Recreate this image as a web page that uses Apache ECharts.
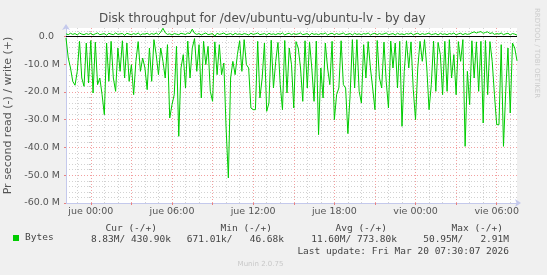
<!DOCTYPE html>
<html>
<head>
<meta charset="utf-8">
<script src="https://cdn.jsdelivr.net/npm/echarts@6/dist/echarts.min.js"></script>
<style>
html,body{margin:0;padding:0;background:#f0f0f0;}
#chart{width:547px;height:275px;}
</style>
</head>
<body>
<div id="chart"></div>
<script>
// ---- data (values in M bytes per second; read shown negative) ----
const startHour = -11 / 6;      // Wed 22:10, hours relative to Thu 00:00
const stepHour = 1 / 6;         // 10-minute samples
const readMB = [
  -0.6, -7.8, -11.4, -16.2, -17.6, -12.6, -1.8, -15, -18, -2.4,
  -16.8, -1.5, -20.4, -2.1, -17.4, -15, -21, -28.2, -2.4, -16.2,
  -1.8, -15, -19.8, -4.2, -12.6, -1.6, -15, -2.4, -16.2, -10.2,
  -21, -9, -1.9, -12.6, -7.8, -11.4, -19.2, -4.2, -16.2, -1.2,
  -6.6, -13.8, -4.2, -9, -15, -3, -29.4, -24.6, -21, -3.6,
  -36, -11.4, -6.6, -18.6, -1.7, -15, -4.2, -0.8, -12.6, -3,
  -22.2, -1.8, -10.2, -3.6, -19.8, -23.4, -2.0, -13.8, -3, -13.8,
  -9.6, -33, -50.95, -15, -9, -13.8, -6.6, -1.6, -12.6, -1.2,
  -10.2, -11.4, -25.8, -26.4, -26.4, -1.8, -22.2, -15, -2.4, -27,
  -24, -1.4, -18.6, -9, -2.2, -17.4, -26.4, -1.5, -20.4, -4.2,
  -10.2, -25.8, -1.9, -4.2, -11.4, -23.4, -1.6, -18.6, -2.0, -11.4,
  -23.4, -1.7, -35.4, -11.4, -22.2, -2.4, -11.4, -17.4, -1.8, -30,
  -21, -18.6, -1.6, -17.4, -18.6, -35, -21, -1.2, -18.6, -1.2,
  -19.8, -24, -3, -15, -1.9, -11.4, -18.6, -26.4, -1.5, -15,
  -18.6, -2.1, -16.2, -25.8, -1.7, -11.4, -2.4, -18.6, -1.8, -32.4,
  -12.6, -1.6, -11.4, -2.0, -19.2, -30, -11.4, -1.8, -9, -1.2,
  -11.4, -26.4, -17.4, -1.7, -19.8, -2.2, -6.6, -21, -1.8, -19.8,
  -1.2, -15, -6.6, -21, -1.9, -9, -1.2, -39.6, -12.6, -24.6,
  -1.6, -15, -2.0, -19.8, -1.8, -31.2, -1.5, -21, -1.9, -9,
  -21, -31.8, -31.8, -3, -39.6, -19.8, -4.2, -27.6, -2.4, -4.2,
  -8.83
];
const writeMB = [
  0.9, 0.6, 1.1, 0.7, 1.0, 0.5, 1.2, 0.8, 0.6, 1.0,
  0.7, 1.1, 0.5, 0.9, 1.2, 0.6, 0.8, 1.0, 0.4, 1.1,
  0.8, 0.6, 1.2, 0.7, 0.9, 1.0, 0.4, 1.1, 0.8, 0.6,
  1.0, 0.7, 1.2, 0.5, 0.9, 0.8, 1.1, 0.6, 1.0, 0.7,
  1.2, 0.6, 1.5, 2.91, 1.3, 0.7, 0.9, 0.5, 1.0, 0.8,
  0.6, 1.1, 0.9, 0.7, 1.2, 1.0, 2.6, 1.1, 0.7, 1.0,
  0.5, 0.9, 1.2, 0.6, 0.8, 1.0, 0.05, 1.1, 0.7, 0.9,
  1.2, 0.6, 0.8, 1.0, 0.5, 1.1, 0.7, 0.9, 0.6, 1.0,
  0.8, 0.5, 1.1, 0.7, 0.9, 1.2, 0.6, 0.8, 1.0, 0.5,
  1.1, 0.7, 0.9, 0.6, 1.0, 0.8, 1.2, 0.5, 0.9, 1.1,
  0.6, 1.0, 0.7, 0.9, 1.2, 0.6, 0.8, 1.0, 0.4, 1.1,
  0.7, 0.9, 0.6, 1.0, 0.8, 1.2, 0.5, 0.9, 1.1, 0.6,
  1.0, 0.7, 0.9, 1.2, 0.6, 0.8, 1.0, 0.5, 1.1, 0.7,
  0.9, 0.6, 1.0, 0.8, 1.2, 0.5, 0.9, 1.1, 0.6, 1.0,
  0.7, 0.9, 1.2, 0.6, 0.8, 1.0, 0.5, 1.1, 0.7, 0.9,
  0.6, 1.0, 0.8, 1.2, 0.5, 0.9, 1.1, 0.6, 1.0, 0.7,
  0.9, 1.2, 0.6, 0.8, 1.0, 0.5, 1.1, 0.7, 0.9, 0.6,
  1.0, 0.8, 1.2, 0.5, 0.9, 1.1, 0.6, 1.0, 0.7, 0.9,
  1.3, 1.6, 1.2, 1.5, 1.7, 1.1, 1.4, 1.6, 1.0, 1.3,
  0.7, 1.0, 0.8, 1.2, 0.6, 0.9, 1.1, 0.5, 1.0, 0.8,
  0.43
];
const xTickHours = [0, 6, 12, 18, 24, 30];
const xTickLabels = ['jue 00:00', 'jue 06:00', 'jue 12:00', 'jue 18:00', 'vie 00:00', 'vie 06:00'];
const xMajorHours = [0, 3, 6, 9, 12, 15, 18, 21, 24, 27, 30];
const xMinorHours = [-1, 1, 2, 4, 5, 7, 8, 10, 11, 13, 14, 16, 17, 19, 20, 22, 23, 25, 26, 28, 29, 31];
const yMajorTicks = [-60, -50, -40, -30, -20, -10, 0];
const yMinorTicks = [-58, -56, -54, -52, -48, -46, -44, -42, -38, -36, -34, -32, -28, -26, -24, -22,
                     -18, -16, -14, -12, -8, -6, -4, -2, 2];
const legendHeaders = ['Cur (-/+)', 'Min (-/+)', 'Avg (-/+)', 'Max (-/+)'];
const legendValues = ['8.83M/ 430.90k', '671.01k/   46.68k', '11.60M/ 773.80k', '50.95M/   2.91M'];
const lastUpdate = 'Last update: Fri Mar 20 07:30:07 2026';

// ---- chart ----
const xMin = startHour;
const xMax = startHour + (readMB.length - 1) * stepHour;
const readData = readMB.map((v, i) => [startHour + i * stepHour, v]);
const writeData = writeMB.map((v, i) => [startHour + i * stepHour, v]);

const SANS = '"DejaVu Sans", sans-serif';
const MONO = '"DejaVu Sans Mono", monospace';
const GREEN = '#00cc00';
const AXIS = '#c4c9ec';
const MGRID = '#f2a0a0';
const GRID = '#d2d2d2';

const chart = echarts.init(document.getElementById('chart'), null, {renderer: 'canvas'});

const headerRight = [157, 272, 387, 503];
const valueRight = [171, 284, 397, 509];
const graphics = [];
legendHeaders.forEach((t, k) => graphics.push({
  type: 'text', x: headerRight[k], y: 228.5,
  style: {text: t, textAlign: 'right', textVerticalAlign: 'middle', fill: '#444', font: '9.5px ' + MONO}
}));
legendValues.forEach((t, k) => graphics.push({
  type: 'text', x: valueRight[k], y: 240,
  style: {text: t, textAlign: 'right', textVerticalAlign: 'middle', fill: '#444', font: '9.5px ' + MONO}
}));
graphics.push({
  type: 'text', x: 509, y: 251.5,
  style: {text: lastUpdate, textAlign: 'right', textVerticalAlign: 'middle', fill: '#444', font: '9.5px ' + MONO}
});
graphics.push({
  type: 'text', x: 260.5, y: 264,
  style: {text: 'Munin 2.0.75', textAlign: 'center', textVerticalAlign: 'middle', fill: '#c8c8c8', font: '7px ' + SANS}
});
graphics.push({
  type: 'text', x: 537, y: 53, rotation: -Math.PI / 2,
  style: {text: 'RRDTOOL / TOBI OETIKER', textAlign: 'center', textVerticalAlign: 'middle', fill: '#cccccc', font: '7px ' + SANS}
});

const option = {
  animation: false,
  backgroundColor: '#f0f0f0',
  title: {
    text: 'Disk throughput for /dev/ubuntu-vg/ubuntu-lv - by day',
    left: 99, top: 13, padding: 0,
    textStyle: {fontFamily: SANS, fontSize: 12, fontWeight: 'normal', color: '#4d4d4d'}
  },
  legend: {
    data: ['Bytes'], left: 13, top: 233, padding: 0, selectedMode: false,
    icon: 'rect', itemWidth: 6, itemHeight: 6,
    textStyle: {fontFamily: MONO, fontSize: 9.5, color: '#444', padding: [0, 0, 0, 1]}
  },
  grid: {
    left: 66, right: 30, top: 28, bottom: 72,
    show: true, backgroundColor: '#ffffff', borderWidth: 0,
    containLabel: false, outerBoundsMode: 'none'
  },
  xAxis: [{
    type: 'value', min: xMin, max: xMax, position: 'bottom', z: 3,
    axisLine: {show: true, onZero: false, lineStyle: {color: AXIS, width: 1},
      symbol: ['none', 'arrow'], symbolSize: [6, 6], symbolOffset: [0, 4]},
    axisTick: {show: true, customValues: xMajorHours, length: 2, lineStyle: {color: '#e88080'}},
    axisLabel: {show: true, customValues: xTickHours, margin: 4,
      fontFamily: SANS, fontSize: 9.5, color: '#555',
      formatter: v => xTickLabels[xTickHours.indexOf(v)]},
    splitLine: {show: true, lineStyle: {color: MGRID, type: [1, 2], width: 1}}
  }, {
    type: 'value', min: xMin, max: xMax, position: 'bottom',
    axisLine: {show: false},
    axisTick: {show: true, customValues: xMinorHours, length: 2, lineStyle: {color: '#c8c8c8'}},
    axisLabel: {show: false},
    splitLine: {show: true, lineStyle: {color: GRID, type: [1, 2], width: 1}}
  }],
  yAxis: [{
    type: 'value', min: -60, max: 3, position: 'left', z: 3,
    name: 'Pr second read (-) / write (+)', nameLocation: 'middle', nameGap: 48,
    nameTextStyle: {fontFamily: SANS, fontSize: 11, color: '#555'},
    axisLine: {show: true, onZero: false, lineStyle: {color: AXIS, width: 1},
      symbol: ['none', 'arrow'], symbolSize: [6, 6], symbolOffset: [0, 4]},
    axisTick: {show: true, customValues: yMajorTicks, length: 2, lineStyle: {color: '#e88080'}},
    axisLabel: {show: true, customValues: yMajorTicks, margin: 6,
      fontFamily: SANS, fontSize: 9.5, color: '#555',
      formatter: v => v === 0 ? '0.0  ' : v.toFixed(1) + ' M'},
    splitLine: {show: true, lineStyle: {color: MGRID, type: [1, 2], width: 1}}
  }, {
    type: 'value', min: -60, max: 3, position: 'left',
    axisLine: {show: false},
    axisTick: {show: true, customValues: yMinorTicks, length: 2, lineStyle: {color: '#c8c8c8'}},
    axisLabel: {show: false},
    splitLine: {show: true, lineStyle: {color: GRID, type: [1, 2], width: 1}}
  }],
  series: [{
    name: 'Bytes', type: 'line', xAxisIndex: 0, yAxisIndex: 0,
    data: readData, showSymbol: false, symbol: 'none',
    lineStyle: {color: GREEN, width: 1}, itemStyle: {color: GREEN},
    z: 4,
    markLine: {
      silent: true, symbol: ['none', 'none'], label: {show: false},
      lineStyle: {color: '#000000', type: 'solid', width: 1.2},
      data: [{yAxis: 0}]
    }
  }, {
    name: 'Bytes', type: 'line', xAxisIndex: 0, yAxisIndex: 0,
    data: writeData, showSymbol: false, symbol: 'none',
    lineStyle: {color: GREEN, width: 1}, itemStyle: {color: GREEN},
    z: 5
  }],
  graphic: graphics
};
chart.setOption(option);
</script>
</body>
</html>
